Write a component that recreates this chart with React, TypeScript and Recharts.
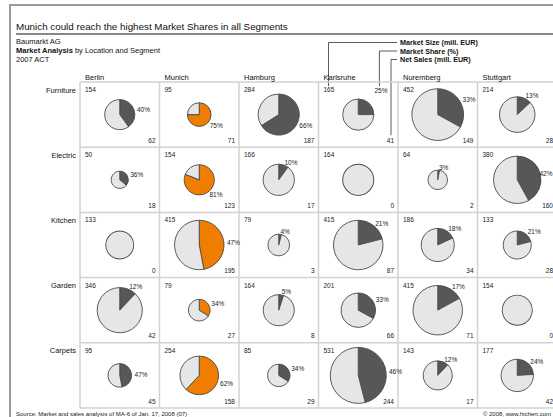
import React from "react";
import { PieChart, Pie, Cell } from "recharts";

// ---------- data ----------
const cities = ["Berlin", "Munich", "Hamburg", "Karlsruhe", "Nuremberg", "Stuttgart"];
const segments = ["Furniture", "Electric", "Kitchen", "Garden", "Carpets"];
const highlightCity = "Munich";

// market size (mill. EUR) per segment row, per city column
const marketSize = [
  [154, 95, 284, 165, 452, 214],
  [50, 154, 166, 164, 64, 380],
  [133, 415, 79, 415, 186, 133],
  [346, 79, 164, 201, 415, 154],
  [95, 254, 85, 531, 143, 177],
];
// market share (%)
const marketShare = [
  [40, 75, 66, 25, 33, 13],
  [36, 81, 10, 0, 3, 42],
  [0, 47, 4, 21, 18, 21],
  [12, 34, 5, 33, 17, 0],
  [47, 62, 34, 46, 12, 24],
];
// net sales (mill. EUR)
const netSales = [
  [62, 71, 187, 41, 149, 28],
  [18, 123, 17, 0, 2, 160],
  [0, 195, 3, 87, 34, 28],
  [42, 27, 8, 66, 71, 0],
  [45, 158, 29, 244, 17, 42],
];

const legendLabels = ["Market Size (mill. EUR)", "Market Share (%)", "Net Sales (mill. EUR)"];
const legendCity = "Karlsruhe";
const legendSegment = "Furniture";

// ---------- layout ----------
const W = 553;
const H = 417;
const X0 = 80;
const CW = 79.5;
const Y0 = 82;
const RH = 65.2;
const MAX_R = 28;
const FONT = "'Liberation Sans', Arial, Helvetica, sans-serif";

const DARK = "#575757";
const LIGHT = "#e6e6e6";
const ORANGE = "#ee7d00";
const STROKE = "#4a4a4a";
const GRID = "#d2d2d2";

const maxSize = Math.max(...marketSize.flat());
const rScale = (v: number) => MAX_R * Math.sqrt(v / maxSize);
const colCenter = (c: number) => X0 + (c + 0.5) * CW;
const rowCenter = (r: number) => Y0 + (r + 0.5) * RH;

const RAD = Math.PI / 180;

function labelPos(cx: number, cy: number, r: number, share: number, lifted: boolean) {
  const mid = 90 - share * 1.8; // degrees, math convention
  const d = r + 3;
  const x = Math.min(cx + d * Math.cos(mid * RAD), W - 13.5);
  const y = cy - d * Math.sin(mid * RAD);
  return lifted ? { x: x + 3, y: y - 11 } : { x, y };
}

export default function App() {
  const nCols = cities.length;
  const nRows = segments.length;
  const gridRight = X0 + nCols * CW;
  const gridBottom = Y0 + nRows * RH;

  // legend leader targets: example cell
  const lc = cities.indexOf(legendCity);
  const lr = segments.indexOf(legendSegment);
  const lp = labelPos(
    colCenter(lc),
    rowCenter(lr),
    rScale(marketSize[lr][lc]),
    marketShare[lr][lc],
    true
  );
  const legendX = 400;
  const legendY = [42.5, 51, 59.5];
  const targets = [
    { x: X0 + lc * CW + 10, y: Y0 + 4 },
    { x: lp.x + 5, y: lp.y - 4.5 },
    { x: X0 + (lc + 1) * CW - 7, y: Y0 + (lr + 1) * RH - 12 },
  ];

  const pies: React.ReactNode[] = [];
  segments.forEach((seg, ri) => {
    cities.forEach((city, ci) => {
      const share = marketShare[ri][ci];
      const size = marketSize[ri][ci];
      const r = rScale(size);
      const cx = colCenter(ci);
      const cy = rowCenter(ri);
      const lifted = ri === lr && ci === lc;
      const shareColor = city === highlightCity ? ORANGE : DARK;
      const data =
        share > 0
          ? [
              { name: "share", value: share, fill: shareColor },
              { name: "rest", value: 100 - share, fill: LIGHT },
            ]
          : [{ name: "rest", value: 100, fill: LIGHT }];
      const renderLabel = (props: any) => {
        if (share <= 0 || props.index !== 0) return null;
        const p = labelPos(cx, cy, r, share, lifted);
        return (
          <text
            x={p.x}
            y={p.y}
            textAnchor="start"
            dominantBaseline="central"
            fontSize={6.5}
            fontFamily={FONT}
            fill="#222"
          >
            {share + "%"}
          </text>
        );
      };
      pies.push(
        <Pie
          key={seg + city}
          data={data}
          dataKey="value"
          nameKey="name"
          cx={cx}
          cy={cy}
          innerRadius={0}
          outerRadius={r}
          startAngle={90}
          endAngle={-270}
          stroke={share > 0 ? STROKE : "none"}
          strokeWidth={0.9}
          isAnimationActive={false}
          label={renderLabel}
          labelLine={false}
        >
          {data.map((d, i) => (
            <Cell key={i} fill={d.fill} />
          ))}
        </Pie>
      );
      if (share <= 0) {
        // outline ring for full (no share) circles
        pies.push(
          <Pie
            key={seg + city + "-ring"}
            data={[{ name: "outline", value: 100 }]}
            dataKey="value"
            cx={cx}
            cy={cy}
            innerRadius={r - 0.45}
            outerRadius={r + 0.45}
            startAngle={90}
            endAngle={-270}
            fill={STROKE}
            stroke="none"
            isAnimationActive={false}
          />
        );
      }
    });
  });

  return (
    <div
      style={{
        position: "absolute",
        left: 0,
        top: 0,
        width: W,
        height: H,
        background: "#fff",
        overflow: "hidden",
        fontFamily: FONT,
      }}
    >
      <svg width={W} height={H} style={{ position: "absolute", left: 0, top: 0 }}>
        {/* frame */}
        <rect x={10} y={5} width={700} height={600} fill="none" stroke="#9a9a9a" strokeWidth={2} />
        {/* title */}
        <text x={16} y={30} fontSize={9.8} fontFamily={FONT} fill="#111">
          Munich could reach the highest Market Shares in all Segments
        </text>
        <line x1={16} x2={W + 10} y1={34} y2={34} stroke="#111" strokeWidth={1} />
        <text x={16} y={44} fontSize={7.5} fontFamily={FONT} fill="#111">
          Baumarkt AG
        </text>
        <text x={16} y={53} fontSize={7.5} fontFamily={FONT} fill="#111">
          <tspan fontWeight="bold">Market Analysis</tspan>
          <tspan> by Location and Segment</tspan>
        </text>
        <text x={16} y={62} fontSize={7.5} fontFamily={FONT} fill="#111">
          2007 ACT
        </text>

        {/* legend */}
        {legendLabels.map((t, i) => (
          <text
            key={t}
            x={legendX}
            y={legendY[i]}
            dominantBaseline="central"
            fontSize={7.2}
            fontWeight="bold"
            fontFamily={FONT}
            fill="#111"
          >
            {t}
          </text>
        ))}
        {targets.map((t, i) => (
          <polyline
            key={i}
            points={`${legendX - 3},${legendY[i]} ${t.x},${legendY[i]} ${t.x},${t.y}`}
            fill="none"
            stroke="#333"
            strokeWidth={0.8}
          />
        ))}

        {/* grid */}
        {Array.from({ length: nCols + 1 }, (_, i) => (
          <line
            key={"v" + i}
            x1={X0 + i * CW}
            x2={X0 + i * CW}
            y1={Y0}
            y2={gridBottom}
            stroke={GRID}
            strokeWidth={1.5}
          />
        ))}
        {Array.from({ length: nRows + 1 }, (_, i) => (
          <line
            key={"h" + i}
            x1={X0}
            x2={gridRight}
            y1={Y0 + i * RH}
            y2={Y0 + i * RH}
            stroke={GRID}
            strokeWidth={1.5}
          />
        ))}

        {/* column headers */}
        {cities.map((c, i) => (
          <text key={c} x={X0 + i * CW + 5} y={80} fontSize={7.5} fontFamily={FONT} fill="#111">
            {c}
          </text>
        ))}
        {/* row labels */}
        {segments.map((s, i) => (
          <text
            key={s}
            x={76}
            y={Y0 + i * RH + 10.5}
            textAnchor="end"
            fontSize={7.5}
            fontFamily={FONT}
            fill="#111"
          >
            {s}
          </text>
        ))}

        {/* cell numbers */}
        {segments.map((s, ri) =>
          cities.map((c, ci) => (
            <g key={s + c}>
              <text
                x={X0 + ci * CW + 5}
                y={Y0 + ri * RH + 10}
                fontSize={6.5}
                fontFamily={FONT}
                fill="#222"
              >
                {marketSize[ri][ci]}
              </text>
              <text
                x={X0 + (ci + 1) * CW - 4}
                y={Y0 + (ri + 1) * RH - 4.5}
                textAnchor="end"
                fontSize={6.5}
                fontFamily={FONT}
                fill="#222"
              >
                {netSales[ri][ci]}
              </text>
            </g>
          ))
        )}

        {/* footer */}
        <text x={16} y={415.5} fontSize={6} fontFamily={FONT} fill="#222">
          Source: Market and sales analysis of MA-6 of Jan. 17, 2008 (07)
        </text>
        <text x={551} y={415.5} textAnchor="end" fontSize={6} fontFamily={FONT} fill="#222">
          © 2008, www.hichert.com
        </text>
      </svg>
      <div style={{ position: "absolute", left: 0, top: 0 }}>
        <PieChart width={W} height={H} margin={{ top: 0, right: 0, bottom: 0, left: 0 }}>
          {pies}
        </PieChart>
      </div>
    </div>
  );
}
